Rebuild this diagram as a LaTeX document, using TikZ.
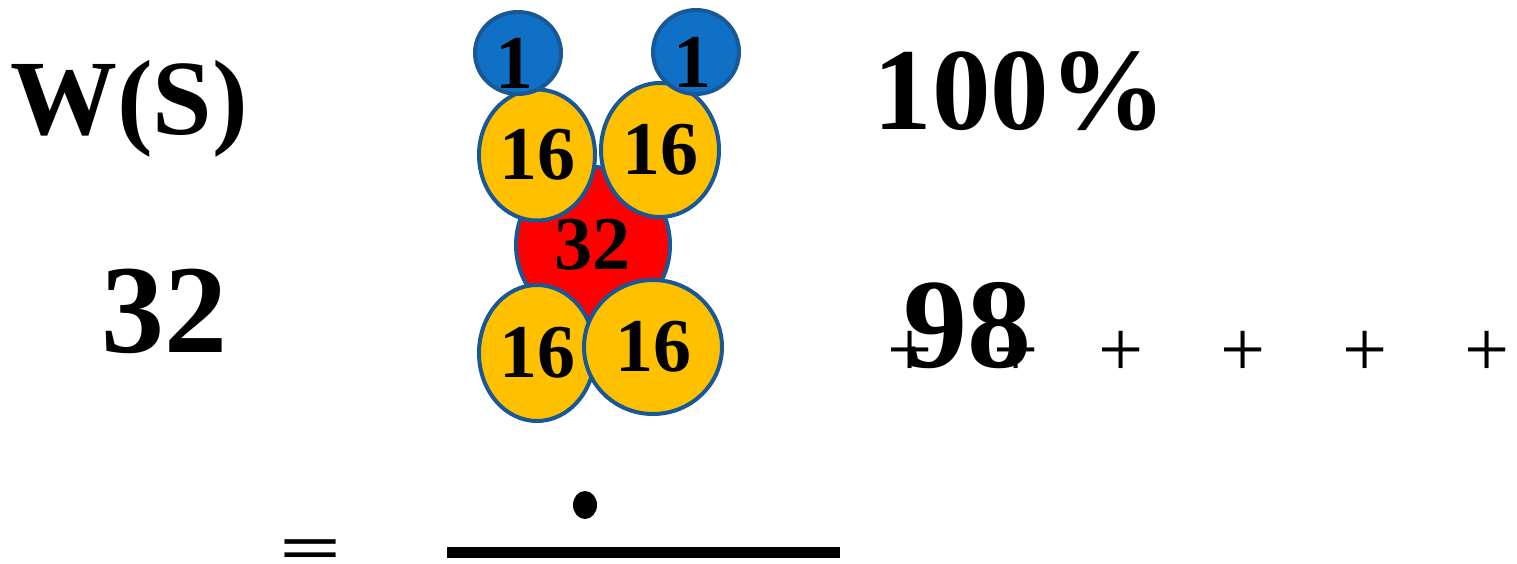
\documentclass[tikz,border=0pt]{standalone}
\usepackage{fontspec}
\setmainfont{Liberation Serif}
\usetikzlibrary{shapes.geometric}
\definecolor{ballblue}{RGB}{16,112,198}
\definecolor{ballgold}{RGB}{255,192,0}
\definecolor{ballred}{RGB}{255,0,0}
\definecolor{rimblue}{RGB}{24,88,150}

\begin{document}
\begin{tikzpicture}[x=1pt,y=-1pt,
  ball/.style={ellipse, draw=rimblue, line width=4pt, inner sep=0pt},
  ballnum/.style={font=\fontsize{76}{76}\selectfont\bfseries, inner sep=0pt},
  bigtxt/.style={font=\fontsize{#1}{#1}\selectfont\bfseries, inner sep=0pt, anchor=base},
  plustxt/.style={font=\fontsize{80}{80}\selectfont, inner sep=0pt, anchor=base}]
\useasboundingbox[fill=white] (0,0) rectangle (1517,564);

% left column
\node[bigtxt=107] (ws) at (129,135) {W(S)};
\node[bigtxt=126] (count) at (164,352) {32};

% the balls
\node[ball, fill=ballred, minimum width=154, minimum height=156] (red) at (593,245) {};
\node[ballnum] (redtxt) at (592,245) {32};
\node[ball, fill=ballgold, minimum width=116, minimum height=136, ballnum] (goldBL) at (537,353) {16};
\node[ball, fill=ballgold, minimum width=138, minimum height=134, ballnum] (goldBR) at (653,347) {16};
\node[ball, fill=ballgold, minimum width=116, minimum height=131, ballnum] (goldTL) at (537,155) {16};
\node[ball, fill=ballgold, minimum width=118, minimum height=134, ballnum] (goldTR) at (660,150) {16};
\node[ball, fill=ballblue, minimum width=86, minimum height=82] (blueL) at (518,53) {};
\node[ballnum, xshift=-4pt, yshift=-10pt] (oneL) at (blueL) {1};
\node[ball, fill=ballblue, minimum width=86, minimum height=84] (blueR) at (696,52) {};
\node[ballnum, xshift=-4pt, yshift=-10pt] (oneR) at (blueR) {1};

% right column
\node[bigtxt=117] (pct) at (1020,130) {100\%};
\foreach \x [count=\i] in {910,1016,1121,1243,1365,1487}
  \node[plustxt] (plus\i) at (\x,376) {+};
\node[bigtxt=128] (share) at (967,367) {98};

% bottom row
\node[font=\fontsize{110}{110}\selectfont\bfseries, inner sep=0pt, anchor=north] (eq) at (311,539) {\scalebox{1}[0.6]{=}};
\node[ellipse, fill=black, minimum width=24, minimum height=28, inner sep=0pt] (dot) at (585,505) {};
\coordinate (barL) at (447,552);
\coordinate (barR) at (840,552);
\draw[line width=11pt] (barL) -- (barR);
\end{tikzpicture}
\end{document}
